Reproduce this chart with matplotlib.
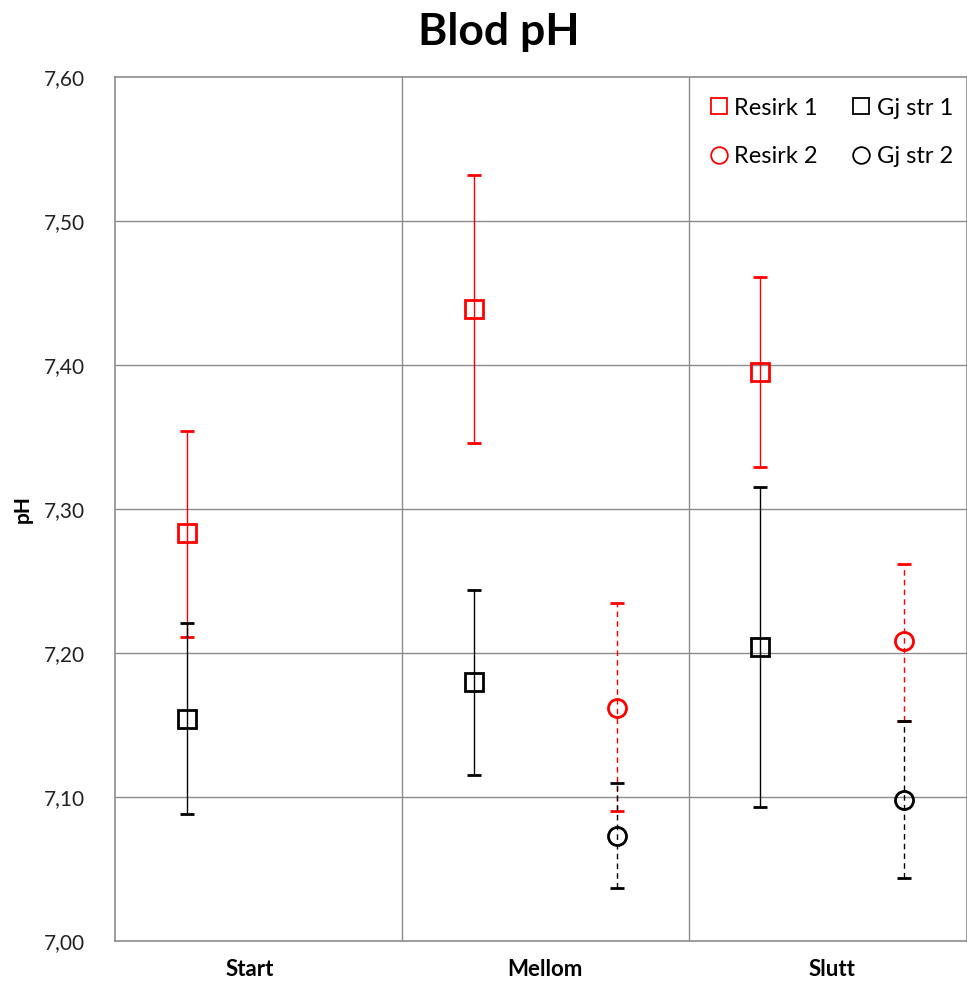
import numpy as np
import matplotlib.pyplot as plt
from matplotlib.lines import Line2D

plt.rcParams['font.family'] = ['Lato', 'DejaVu Sans']

categories = ['Start', 'Mellom', 'Slutt']
cat_pos = [0.47, 1.5, 2.5]

# serie 1 (x = 0.25, 1.25, 2.25)
x1 = [0.25, 1.25, 2.25]
resirk1 = [7.283, 7.439, 7.395]
resirk1_hi = [7.354, 7.532, 7.461]
resirk1_lo = [7.211, 7.346, 7.329]
gjstr1 = [7.154, 7.180, 7.204]
gjstr1_hi = [7.221, 7.244, 7.315]
gjstr1_lo = [7.088, 7.115, 7.093]

# serie 2 (x = 1.75, 2.75)
x2 = [1.75, 2.75]
resirk2 = [7.162, 7.208]
resirk2_hi = [7.235, 7.262]
resirk2_lo = [7.090, 7.153]
gjstr2 = [7.073, 7.098]
gjstr2_hi = [7.110, 7.153]
gjstr2_lo = [7.037, 7.044]


def err(v, lo, hi):
    v = np.array(v)
    return [v - np.array(lo), np.array(hi) - v]


fig = plt.figure(figsize=(9.67, 9.81), dpi=100)
ax = fig.add_axes([0.119, 0.0408, 0.881, 0.8807])

grid = '#8c8c8c'
ax.set_xlim(0, 2.97)
ax.set_ylim(7.0, 7.6)
yt = np.arange(7.0, 7.61, 0.1)
for y in yt[1:-1]:
    ax.axhline(y, color=grid, lw=1, zorder=0)
for x in [1, 2]:
    ax.axvline(x, color=grid, lw=1, zorder=0)
for s in ax.spines.values():
    s.set_color(grid)
    s.set_linewidth(1.2)

ax.tick_params(axis='both', length=0)
ax.tick_params(axis='x', pad=13, colors='black', labelsize=16)
ax.tick_params(axis='y', pad=22, colors='#222222', labelsize=15)
ax.set_yticks(yt)
ax.set_yticklabels([('%.2f' % v).replace('.', ',') for v in yt])
ax.set_xticks(cat_pos)
ax.set_xticklabels(categories, fontweight='bold')

mk = dict(markersize=13, markeredgewidth=2, markerfacecolor='none', linestyle='none')
eb = dict(elinewidth=1, capsize=5, capthick=0.8)

ax.errorbar(x1, resirk1, yerr=err(resirk1, resirk1_lo, resirk1_hi), marker='s',
            color='red', mec='red', ecolor='red', zorder=3, **mk, **eb)
ax.errorbar(x1, gjstr1, yerr=err(gjstr1, gjstr1_lo, gjstr1_hi), marker='s',
            color='black', mec='black', ecolor='black', zorder=3, **mk, **eb)
e = ax.errorbar(x2, resirk2, yerr=err(resirk2, resirk2_lo, resirk2_hi), marker='o',
                color='red', mec='red', ecolor='red', zorder=3, **mk, **eb)
e[2][0].set_linestyle((0, (4, 3)))
e = ax.errorbar(x2, gjstr2, yerr=err(gjstr2, gjstr2_lo, gjstr2_hi), marker='o',
                color='black', mec='black', ecolor='black', zorder=3, **mk, **eb)
e[2][0].set_linestyle((0, (4, 3)))

ax.set_ylabel('pH', fontweight='bold', fontsize=15, labelpad=8)
fig.text(0.516, 0.967, 'Blod pH', fontweight='bold', fontsize=32, ha='center', va='center')

handles = [
    Line2D([], [], marker='s', color='red', mfc='none', ls='none', markersize=12, mew=1.3),
    Line2D([], [], marker='o', color='red', mfc='none', ls='none', markersize=12, mew=1.3),
    Line2D([], [], marker='s', color='black', mfc='none', ls='none', markersize=12, mew=1.3),
    Line2D([], [], marker='o', color='black', mfc='none', ls='none', markersize=12, mew=1.3),
]
ax.legend(handles, ['Resirk 1', 'Resirk 2', 'Gj str 1', 'Gj str 2'], ncol=2,
          loc='upper right', bbox_to_anchor=(0.9945, 0.987), frameon=False, fontsize=17,
          handletextpad=0.1, columnspacing=1.3, labelspacing=1.15, handlelength=1.1,
          borderaxespad=0)

fig.savefig('out.png', dpi=100)
